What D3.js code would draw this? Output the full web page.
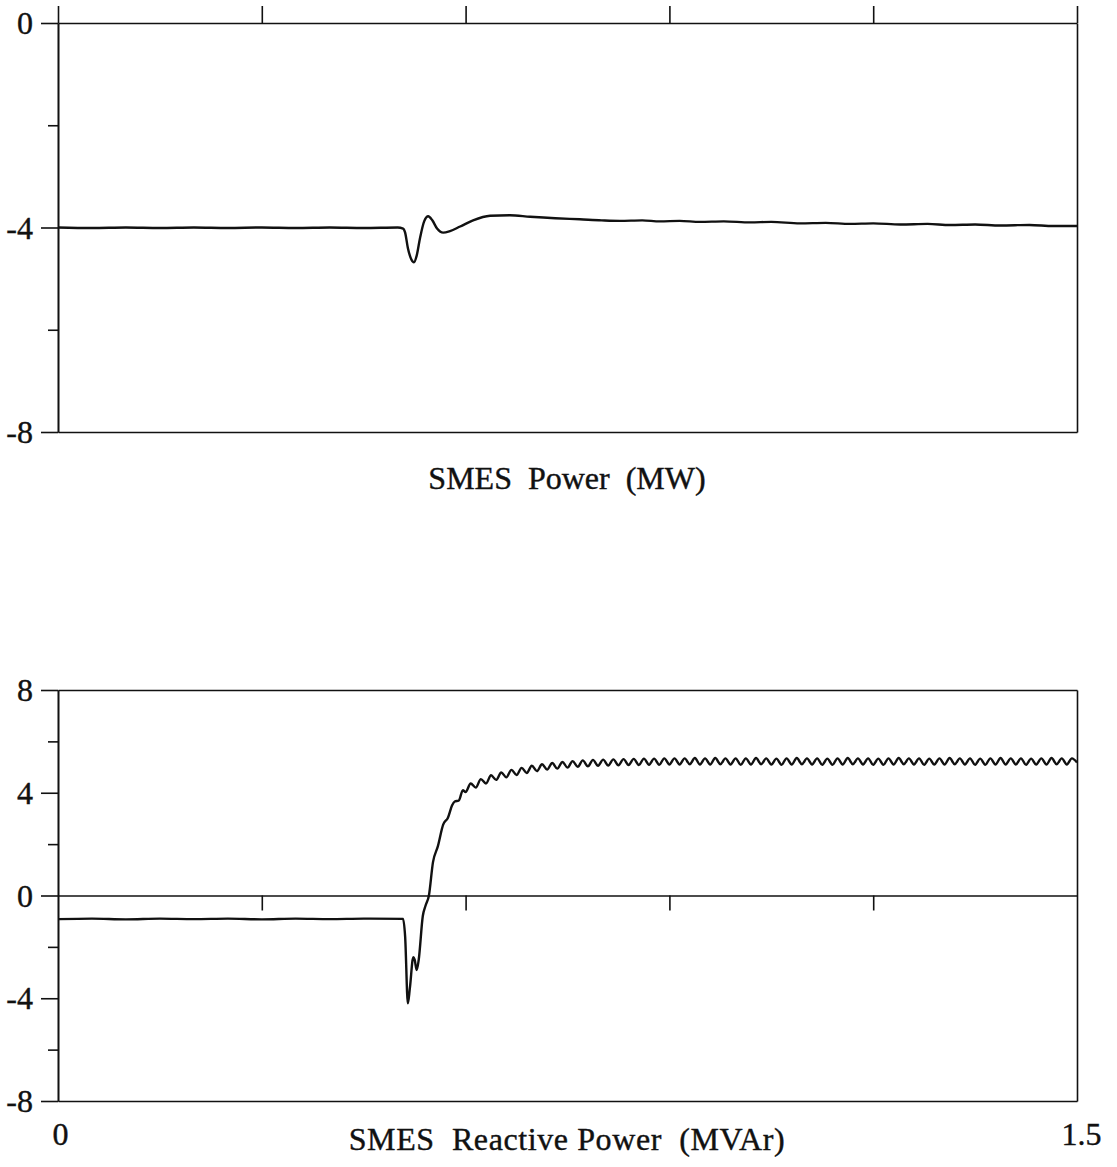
<!DOCTYPE html>
<html>
<head>
<meta charset="utf-8">
<script src="https://cdn.jsdelivr.net/npm/d3@7"></script>
<style>
  body { margin: 0; background: #fff; }
  text { font-family: "Liberation Serif", "Times New Roman", serif; fill: #111; }
</style>
</head>
<body>
<div id="chart"></div>
<script>
// time axis (s)
var timeDomain = [0, 1.5];
var timeTicks = [0.3, 0.6, 0.9, 1.2];
var timeLabels = [0, 1.5];

// SMES power (MW): [t, value]
var powerTicks = [0, -4, -8];
var powerMinor = [-2, -6];
var powerData = [
  [0, -4.0], [0.05, -4.01], [0.1, -4.0], [0.15, -4.01], [0.2, -4.0], [0.25, -4.01],
  [0.3, -4.0], [0.35, -4.01], [0.4, -4.0], [0.45, -4.01], [0.5, -4.0], [0.508, -4.02],
  [0.511, -4.1], [0.515, -4.4], [0.52, -4.62], [0.524, -4.68], [0.528, -4.55],
  [0.533, -4.2], [0.539, -3.88], [0.545, -3.78], [0.551, -3.86], [0.558, -4.02],
  [0.567, -4.1], [0.577, -4.07], [0.592, -3.98], [0.611, -3.86], [0.636, -3.77],
  [0.665, -3.76], [0.695, -3.79], [0.732, -3.82], [0.768, -3.84], [0.8, -3.86],
  [0.827, -3.87], [0.86, -3.86], [0.886, -3.88], [0.915, -3.87], [0.945, -3.89],
  [0.98, -3.88], [1.019, -3.9], [1.05, -3.89], [1.092, -3.92], [1.13, -3.91],
  [1.166, -3.93], [1.2, -3.92], [1.24, -3.94], [1.28, -3.93], [1.313, -3.95],
  [1.35, -3.94], [1.387, -3.96], [1.43, -3.95], [1.465, -3.97], [1.5, -3.97]
];

// SMES reactive power (MVAr): [t, value]
var reactiveTicks = [8, 4, 0, -4, -8];
var reactiveMinor = [6, 2, -2, -6];
var reactiveData = [
  [0, -0.92], [0.05, -0.9], [0.1, -0.93], [0.15, -0.9], [0.2, -0.92], [0.25, -0.9],
  [0.3, -0.93], [0.35, -0.9], [0.4, -0.92], [0.45, -0.9], [0.508, -0.91],
  [0.511, -1.6], [0.515, -4.2], [0.518, -3.6], [0.523, -2.4], [0.525, -2.5],
  [0.528, -2.9], [0.531, -2.5], [0.537, -0.8], [0.541, -0.4], [0.546, 0.0],
  [0.552, 1.3], [0.559, 1.9], [0.567, 2.76], [0.574, 3.03], [0.58, 3.5],
  [0.584, 3.66], [0.59, 3.7], [0.596, 4.1],
  [0.600, 4.03], [0.6075, 4.36], [0.615, 4.20], [0.6225, 4.53], [0.630, 4.36],
  [0.6375, 4.68], [0.645, 4.50], [0.6525, 4.79], [0.660, 4.60], [0.6675, 4.89],
  [0.675, 4.69], [0.6825, 4.97], [0.690, 4.77], [0.6975, 5.05], [0.705, 4.84],
  [0.7125, 5.11], [0.720, 4.90], [0.7275, 5.16], [0.735, 4.94], [0.7425, 5.20],
  [0.750, 4.98], [0.7575, 5.23], [0.765, 5.01], [0.7725, 5.26], [0.780, 5.03],
  [0.7875, 5.28], [0.795, 5.05], [0.8025, 5.29], [0.810, 5.06], [0.8175, 5.30],
  [0.825, 5.07], [0.8325, 5.31], [0.840, 5.08], [0.8475, 5.32], [0.855, 5.08],
  [0.8625, 5.33], [0.870, 5.09], [0.8775, 5.33], [0.885, 5.09], [0.8925, 5.34],
  [0.900, 5.10], [0.9075, 5.34], [0.915, 5.10], [0.9225, 5.34], [0.930, 5.11],
  [0.9375, 5.35], [0.945, 5.10], [0.9525, 5.34], [0.960, 5.10], [0.9675, 5.35],
  [0.975, 5.11], [0.9825, 5.34], [0.990, 5.10], [0.9975, 5.34], [1.005, 5.09],
  [1.0125, 5.34], [1.020, 5.10], [1.0275, 5.35], [1.035, 5.11], [1.0425, 5.34],
  [1.050, 5.10], [1.0575, 5.33], [1.065, 5.09], [1.0725, 5.34], [1.080, 5.10],
  [1.0875, 5.35], [1.095, 5.11], [1.1025, 5.34], [1.110, 5.10], [1.1175, 5.34],
  [1.125, 5.09], [1.1325, 5.33], [1.140, 5.09], [1.1475, 5.34], [1.155, 5.10],
  [1.1625, 5.35], [1.170, 5.11], [1.1775, 5.34], [1.185, 5.10], [1.1925, 5.34],
  [1.200, 5.09], [1.2075, 5.33], [1.215, 5.09], [1.2225, 5.34], [1.230, 5.10],
  [1.2375, 5.35], [1.245, 5.11], [1.2525, 5.34], [1.260, 5.10], [1.2675, 5.34],
  [1.275, 5.09], [1.2825, 5.33], [1.290, 5.10], [1.2975, 5.34], [1.305, 5.10],
  [1.3125, 5.35], [1.320, 5.11], [1.3275, 5.34], [1.335, 5.10], [1.3425, 5.34],
  [1.350, 5.09], [1.3575, 5.33], [1.365, 5.09], [1.3725, 5.34], [1.380, 5.10],
  [1.3875, 5.35], [1.395, 5.10], [1.4025, 5.34], [1.410, 5.10], [1.4175, 5.34],
  [1.425, 5.09], [1.4325, 5.33], [1.440, 5.10], [1.4475, 5.34], [1.455, 5.10],
  [1.4625, 5.35], [1.470, 5.11], [1.4775, 5.34], [1.485, 5.10], [1.4925, 5.34],
  [1.500, 5.18]
];

var titles = ["SMES  Power  (MW)", "SMES  Reactive Power  (MVAr)"];

var width = 1117, height = 1167;
var fontSize = 32;
var svg = d3.select('#chart').append('svg')
    .attr('width', width)
    .attr('height', height);

var x = d3.scaleLinear().domain(timeDomain).range([58, 1077]);
var yTop = d3.scaleLinear().domain([-8, 0]).range([432, 23]);
var yBot = d3.scaleLinear().domain([-8, 8]).range([1101, 690]);

function styleAxis(g) {
    g.selectAll('path.domain').attr('stroke', '#111').attr('stroke-width', 1.6);
    g.selectAll('line').attr('stroke', '#111').attr('stroke-width', 1.6);
    g.selectAll('text').attr('font-size', fontSize).attr('fill', '#111')
        .attr('stroke', '#111').attr('stroke-width', 0.4)
        .attr('font-family', '"Liberation Serif", serif');
}

// plain hyphen minus, as printed
var plainFormat = d => String(d);

// ---- top panel ----
var topPanel = svg.append('g');

// top edge: x axis at y = 0 with ticks pointing up
topPanel.append('g')
    .attr('transform', 'translate(0,' + yTop(0) + ')')
    .call(d3.axisTop(x).tickValues([0].concat(timeTicks, [1.5])).tickSize(17).tickSizeOuter(0).tickFormat(''))
    .call(styleAxis);

// bottom edge
topPanel.append('g')
    .attr('transform', 'translate(0,' + yTop(-8) + ')')
    .call(d3.axisBottom(x).tickValues([]).tickSizeOuter(0))
    .call(styleAxis);

// right edge
topPanel.append('g')
    .attr('transform', 'translate(' + x(1.5) + ',0)')
    .call(d3.axisRight(yTop).tickValues([]).tickSizeOuter(0))
    .call(styleAxis);

// left axis
topPanel.append('g')
    .attr('transform', 'translate(' + x(0) + ',0)')
    .call(d3.axisLeft(yTop).tickValues(powerMinor).tickSize(10).tickSizeOuter(0).tickFormat(''))
    .call(styleAxis);
topPanel.append('g')
    .attr('transform', 'translate(' + x(0) + ',0)')
    .call(d3.axisLeft(yTop).tickValues(powerTicks).tickSize(17).tickPadding(8).tickSizeOuter(0).tickFormat(plainFormat))
    .call(styleAxis)
    .call(g => g.selectAll('text').attr('dy', '0.33em'));

topPanel.append('path')
    .datum(powerData)
    .attr('fill', 'none')
    .attr('stroke', '#111')
    .attr('stroke-width', 2.4)
    .attr('stroke-linejoin', 'round')
    .attr('d', d3.line().x(d => x(d[0])).y(d => yTop(d[1])).curve(d3.curveMonotoneX));

topPanel.append('text')
    .attr('x', 567)
    .attr('y', 489)
    .attr('text-anchor', 'middle')
    .attr('font-size', fontSize)
    .attr('stroke', '#111').attr('stroke-width', 0.4)
    .style('white-space', 'pre')
    .text(titles[0]);

// ---- bottom panel ----
var botPanel = svg.append('g');

// frame
botPanel.append('g')
    .attr('transform', 'translate(0,' + yBot(8) + ')')
    .call(d3.axisTop(x).tickValues([]).tickSizeOuter(0))
    .call(styleAxis);
botPanel.append('g')
    .attr('transform', 'translate(' + x(1.5) + ',0)')
    .call(d3.axisRight(yBot).tickValues([]).tickSizeOuter(0))
    .call(styleAxis);

// bottom edge with 0 and 1.5 labels
botPanel.append('g')
    .attr('transform', 'translate(0,' + yBot(-8) + ')')
    .call(d3.axisBottom(x).tickValues(timeLabels).tickSize(0).tickSizeOuter(0).tickFormat(plainFormat))
    .call(styleAxis)
    .call(g => g.selectAll('text').attr('dy', 0).attr('y', 44))
    .call(g => g.selectAll('.tick').filter(d => d === 0).select('text').attr('dx', 2))
    .call(g => g.selectAll('.tick').filter(d => d === 1.5).select('text').attr('dx', 4));

// zero line with ticks pointing down
botPanel.append('g')
    .attr('transform', 'translate(0,' + yBot(0) + ')')
    .call(d3.axisBottom(x).tickValues(timeTicks).tickSize(15).tickSizeOuter(0).tickFormat(''))
    .call(styleAxis);

// left axis
botPanel.append('g')
    .attr('transform', 'translate(' + x(0) + ',0)')
    .call(d3.axisLeft(yBot).tickValues(reactiveMinor).tickSize(10).tickSizeOuter(0).tickFormat(''))
    .call(styleAxis);
botPanel.append('g')
    .attr('transform', 'translate(' + x(0) + ',0)')
    .call(d3.axisLeft(yBot).tickValues(reactiveTicks).tickSize(17).tickPadding(8).tickSizeOuter(0).tickFormat(plainFormat))
    .call(styleAxis)
    .call(g => g.selectAll('text').attr('dy', '0.33em'));

botPanel.append('path')
    .datum(reactiveData)
    .attr('fill', 'none')
    .attr('stroke', '#111')
    .attr('stroke-width', 2.4)
    .attr('stroke-linejoin', 'round')
    .attr('d', d3.line().x(d => x(d[0])).y(d => yBot(d[1])).curve(d3.curveMonotoneX));

botPanel.append('text')
    .attr('x', 567)
    .attr('y', 1150)
    .attr('text-anchor', 'middle')
    .attr('font-size', fontSize)
    .attr('letter-spacing', 0.6)
    .attr('stroke', '#111').attr('stroke-width', 0.4)
    .style('white-space', 'pre')
    .text(titles[1]);
</script>
</body>
</html>
